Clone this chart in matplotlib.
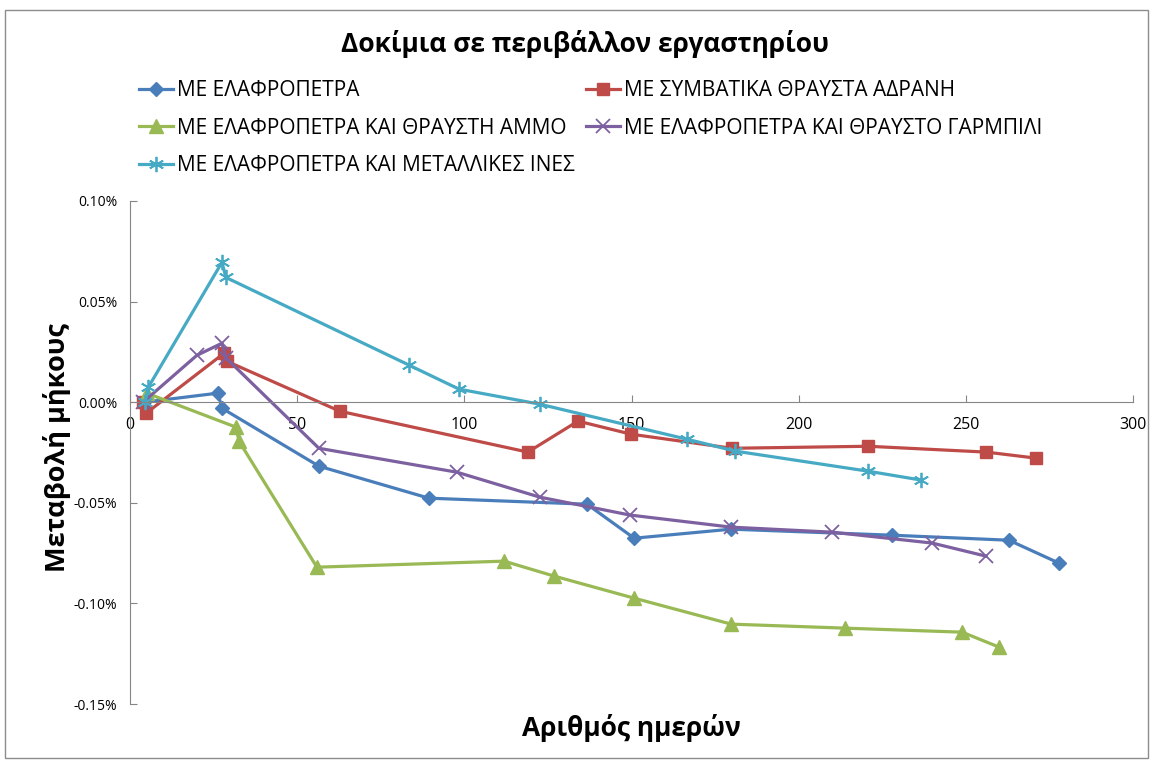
import matplotlib
matplotlib.use("Agg")
import matplotlib.pyplot as plt
from matplotlib.patches import Rectangle
from matplotlib.ticker import FuncFormatter, MultipleLocator

plt.rcParams['font.family'] = ['Open Sans', 'DejaVu Sans']

# Length change (%) against age in days for each mix
days_lp = [4.2, 26.3, 27.5, 56.5, 89.4, 136.7, 150.8, 179.8, 227.9, 262.9, 277.9]
val_lp = [0.000, 0.0045, -0.003, -0.0318, -0.0477, -0.0507, -0.0676, -0.0631, -0.0661, -0.0686, -0.080]

days_conv = [3.9, 4.8, 28.1, 28.9, 62.8, 119.0, 134.0, 149.9, 180.0, 220.8, 256.1, 271.0]
val_conv = [0.000, -0.0055, 0.0243, 0.0204, -0.0045, -0.0248, -0.0094, -0.0159, -0.0229, -0.0219, -0.0248, -0.0278]

days_sand = [5.0, 31.7, 32.6, 55.9, 111.9, 126.8, 150.8, 179.8, 213.9, 248.9, 259.9]
val_sand = [0.0045, -0.0124, -0.0194, -0.082, -0.079, -0.0864, -0.0974, -0.1103, -0.1123, -0.1143, -0.1217]

days_grav = [3.9, 20.0, 27.5, 28.7, 56.5, 97.8, 122.6, 149.6, 179.8, 210.0, 239.9, 256.0]
val_grav = [0.000, 0.0233, 0.0293, 0.022, -0.0229, -0.0348, -0.0472, -0.0561, -0.0621, -0.0646, -0.070, -0.0765]

days_fib = [4.5, 5.5, 27.5, 28.7, 83.5, 98.4, 122.6, 166.6, 181.0, 220.8, 236.6]
val_fib = [0.000, 0.0075, 0.0695, 0.062, 0.0184, 0.0065, -0.001, -0.0184, -0.0243, -0.0343, -0.0387]

names = [
    "ΜΕ ΕΛΑΦΡΟΠΕΤΡΑ",
    "ΜΕ ΣΥΜΒΑΤΙΚΑ ΘΡΑΥΣΤΑ ΑΔΡΑΝΗ",
    "ΜΕ ΕΛΑΦΡΟΠΕΤΡΑ ΚΑΙ ΘΡΑΥΣΤΗ ΑΜΜΟ",
    "ΜΕ ΕΛΑΦΡΟΠΕΤΡΑ ΚΑΙ ΘΡΑΥΣΤΟ ΓΑΡΜΠΙΛΙ",
    "ΜΕ ΕΛΑΦΡΟΠΕΤΡΑ ΚΑΙ ΜΕΤΑΛΛΙΚΕΣ ΙΝΕΣ",
]

fig = plt.figure(figsize=(11.51, 7.60), dpi=100)
fig.patches.append(Rectangle((5 / 1151, 2 / 760), 1143 / 1151, 748 / 760,
                             transform=fig.transFigure, fill=False,
                             edgecolor='#8c8c8c', linewidth=1.0))

ax = fig.add_axes([130 / 1151, 1 - 704 / 760, 1003 / 1151, 503 / 760])

lw = 2.3
ax.plot(days_lp, val_lp, color='#4A7EBB', marker='D', markersize=7.5, lw=lw, label=names[0])
ax.plot(days_conv, val_conv, color='#BE4B48', marker='s', markersize=9, lw=lw, label=names[1])
ax.plot(days_sand, val_sand, color='#98B954', marker='^', markersize=10, lw=lw, label=names[2])
ax.plot(days_grav, val_grav, color='#7D60A0', marker='x', markersize=10, mew=1.3, lw=lw, label=names[3])
ax.plot(days_fib, val_fib, color='#46AAC5', marker=(6, 2, 0), markersize=11, mew=1.3, lw=lw, label=names[4])

ax.set_xlim(0, 300)
ax.set_ylim(-0.15, 0.10)
ax.xaxis.set_major_locator(MultipleLocator(50))
ax.yaxis.set_major_locator(MultipleLocator(0.05))
ax.yaxis.set_major_formatter(FuncFormatter(lambda v, p: f"{v:.2f}%".replace("-0.00", "0.00")))

for s in ('top', 'right'):
    ax.spines[s].set_visible(False)
ax.spines['bottom'].set_position(('data', 0))
ax.spines['bottom'].set_color('#868686')
ax.spines['left'].set_color('#868686')
ax.tick_params(axis='x', direction='in', length=5, color='#868686', labelsize=11.5, pad=11)
ax.tick_params(axis='y', direction='in', length=5, color='#868686', labelsize=10, pad=9)

ax.set_xlabel("Αριθμός ημερών", fontsize=19, fontweight='bold', labelpad=0)
ax.xaxis.set_label_coords(0.5, -0.02)
ax.set_ylabel("Μεταβολή μήκους", fontsize=19.5, fontweight='bold')
ax.yaxis.set_label_coords(-0.059, 0.51)

fig.text(0.508, 1 - 44 / 760, "Δοκίμια σε περιβάλλον εργαστηρίου",
         ha='center', va='center', fontsize=19, fontweight='bold')

handles, labels = ax.get_legend_handles_labels()
order = [0, 2, 4, 1, 3]
leg = fig.legend([handles[i] for i in order], [labels[i] for i in order],
                 loc='upper left', bbox_to_anchor=(131 / 1151, 1 - 72 / 760),
                 ncol=2, frameon=False, fontsize=15, handlelength=1.6,
                 handletextpad=0.2, columnspacing=0.55, labelspacing=0.78,
                 borderaxespad=0)

fig.savefig("out.png", dpi=100)
